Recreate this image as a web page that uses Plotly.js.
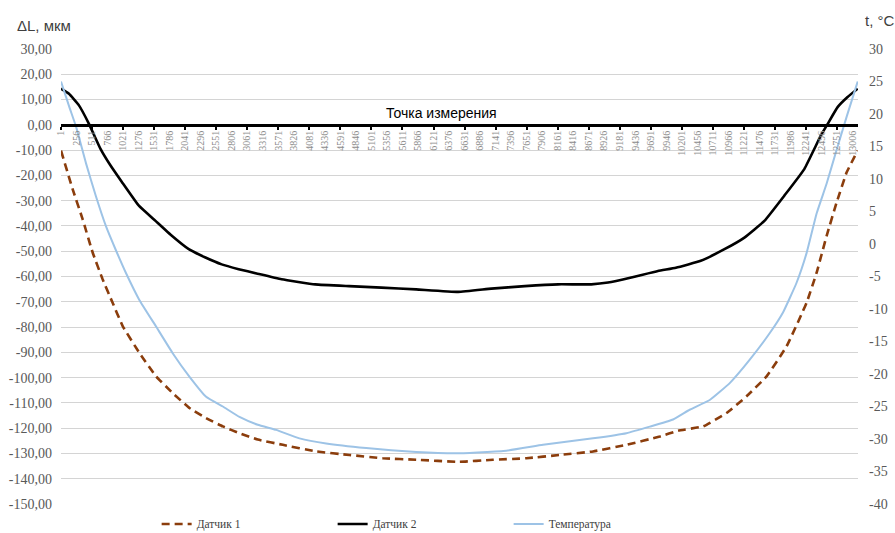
<!DOCTYPE html>
<html>
<head>
<meta charset="utf-8">
<script src="https://cdn.plot.ly/plotly-3.0.1.min.js"></script>
<style>html,body{margin:0;padding:0;background:#fff;}#chart{width:895px;height:533px;}</style>
</head>
<body>
<div id="chart"></div>
<script>
// Датчик 1 (левая ось, мкм)
const x1 = [1,192,356,521,685,849,1014,1288,1563,1836,2110,2385,2659,2933,3234,3645,4193,4741,5289,5838,6545,7097,7646,8194,8742,9290,9838,10140,10550,10935,11264,11593,11922,12250,12415,12580,12744,12909,13090];
const d1 = [-10.2,-25.4,-37.3,-50.5,-61.1,-70.4,-79.6,-90.2,-99.5,-106.1,-112,-116,-119.3,-122,-124.5,-126.6,-129.2,-130.6,-131.9,-132.5,-133.3,-132.5,-131.9,-130.6,-129.2,-126.6,-123.3,-121,-119.3,-114,-107.4,-99.5,-87.6,-70.4,-58.5,-43.9,-30.7,-18.8,-10.2];
// Датчик 2 (левая ось, мкм)
const x2 = [1,132,296,460,650,815,1001,1280,1554,1822,2100,2374,2641,2920,3215,3625,4177,4733,5266,5835,6528,7070,7622,8167,8713,8988,9370,9808,10103,10512,10901,11229,11557,11885,12213,12486,12600,12760,12924,13090];
const d2 = [14.3,12.3,7.7,0.4,-9.5,-16.1,-22.6,-32,-38,-43.9,-49.2,-52.5,-55.2,-57.1,-58.8,-61.1,-63.1,-63.8,-64.4,-65.1,-66.1,-64.8,-63.8,-63.1,-63.1,-62.4,-60.4,-57.8,-56.5,-53.8,-49.2,-44.6,-38,-28,-17.5,-4.2,0.5,7,11,14.3];
// Температура (правая ось, °C)
const xt = [1,137,247,412,576,741,905,1070,1288,1563,1836,2110,2385,2659,2933,3234,3536,3919,4357,5015,5838,6528,7317,7920,8742,9290,9674,10057,10330,10659,10988,11317,11646,11865,12084,12250,12415,12580,12744,12909,13090];
const temp = [25,21.1,18.1,12.4,7.3,2.7,-1,-4.5,-8.6,-12.7,-16.8,-20.4,-23.5,-25,-26.6,-27.8,-28.6,-29.9,-30.7,-31.4,-32,-32.2,-31.8,-30.9,-29.9,-29.1,-28.1,-27,-25.5,-24,-21.4,-17.8,-13.7,-10.5,-6,-1.4,4.7,9.3,14.5,19.6,25];

// Tick labels
const xTickVals = [];
for (let v = 1; v <= 13006; v += 255) xTickVals.push(v);
const xTickText = xTickVals.map(String);
const xMarkVals = [];
for (let v = 1; v <= 13006; v += 510) xMarkVals.push(v);
const yLeftVals = [30,20,10,0,-10,-20,-30,-40,-50,-60,-70,-80,-90,-100,-110,-120,-130,-140,-150];
const yLeftText = yLeftVals.map(v => v.toFixed(2).replace('.', ','));
const yRightVals = [30,25,20,15,10,5,0,-5,-10,-15,-20,-25,-30,-35,-40];
const yRightText = yRightVals.map(String);

const serif = '"Liberation Serif", "Times New Roman", serif';
const sans = '"Liberation Sans", Arial, sans-serif';

const traces = [
  {x: x1, y: d1, name: 'Датчик 1', type: 'scatter', mode: 'lines', yaxis: 'y',
   line: {color: '#8b3d0c', width: 2.6, dash: '8px,5px', shape: 'spline', smoothing: 0.35}},
  {x: x2, y: d2, name: 'Датчик 2', type: 'scatter', mode: 'lines', yaxis: 'y',
   line: {color: '#000000', width: 2.6, shape: 'spline', smoothing: 0.35}},
  {x: xt, y: temp, name: 'Температура', type: 'scatter', mode: 'lines', yaxis: 'y2',
   line: {color: '#9dc3e6', width: 2, shape: 'spline', smoothing: 0.35}}
];

const layout = {
  width: 895, height: 533,
  margin: {l: 61, r: 37, t: 49, b: 29, autoexpand: false},
  paper_bgcolor: '#ffffff', plot_bgcolor: '#ffffff',
  showlegend: true,
  legend: {orientation: 'h', x: 0.12, xanchor: 'left', y: -0.012, yanchor: 'top',
           entrywidth: 131, entrywidthmode: 'pixels',
           font: {family: serif, size: 11.5, color: '#404040'}},
  xaxis: {
    type: 'linear', range: [1, 13095], anchor: 'free', position: 150/180,
    showgrid: false, zeroline: false,
    showline: true, linecolor: '#000000', linewidth: 3,
    tickmode: 'array', tickvals: xTickVals, ticktext: xTickText, tickangle: -90,
    ticks: '', tickfont: {family: serif, size: 10, color: '#8c8c8c'},
    minor: {tickmode: 'array', tickvals: xMarkVals, ticks: 'outside', ticklen: 3, tickwidth: 2, tickcolor: '#000000', showgrid: false}
  },
  yaxis: {
    range: [-150, 30], tickmode: 'array', tickvals: yLeftVals, ticktext: yLeftText,
    showgrid: true, gridcolor: '#d4d4d4', gridwidth: 1, zeroline: false,
    showline: false, ticks: '', ticklabelstandoff: 8,
    tickfont: {family: serif, size: 14, color: '#595959'}
  },
  yaxis2: {
    range: [-40, 30], overlaying: 'y', side: 'right', tickmode: 'array',
    tickvals: yRightVals, ticktext: yRightText, showgrid: false, zeroline: false,
    showline: false, ticks: '', ticklabelstandoff: 10,
    tickfont: {family: serif, size: 14, color: '#595959'}
  },
  annotations: [
    {text: 'ΔL, мкм', xref: 'paper', yref: 'paper', x: -0.058, y: 1, yshift: 24, xanchor: 'left', yanchor: 'middle',
     showarrow: false, font: {family: sans, size: 15, color: '#404040'}},
    {text: 't, °C', xref: 'paper', yref: 'paper', x: 1.006, y: 1, yshift: 29, xanchor: 'left', yanchor: 'middle',
     showarrow: false, font: {family: sans, size: 15, color: '#404040'}},
    {text: 'Точка измерения', xref: 'paper', yref: 'y', x: 0.478, y: 0.8, xanchor: 'center', yanchor: 'bottom',
     showarrow: false, font: {family: sans, size: 14, color: '#000000'}}
  ]
};

Plotly.newPlot('chart', traces, layout, {displayModeBar: false, staticPlot: true});
</script>
</body>
</html>
